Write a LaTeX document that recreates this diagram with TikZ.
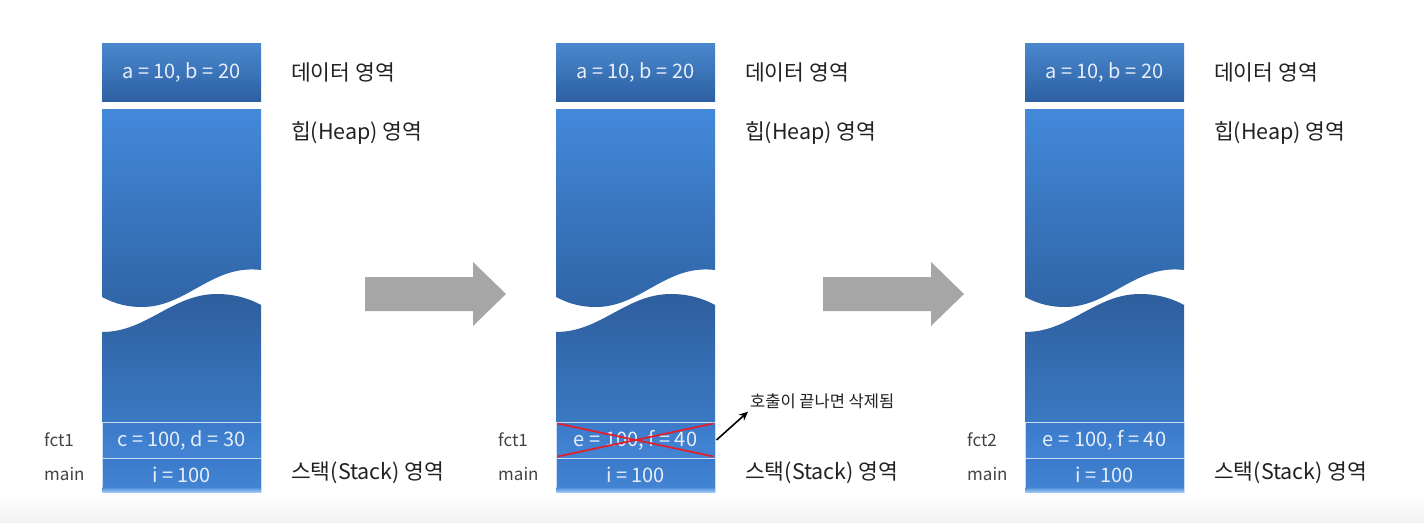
\documentclass[tikz,border=0pt]{standalone}
\usepackage{fontspec}
\setmainfont{Noto Sans CJK KR}
\usetikzlibrary{arrows.meta,calc}
\definecolor{dataTop}{HTML}{4A88CE}
\definecolor{dataBot}{HTML}{2C60A2}
\definecolor{heapTop}{HTML}{4389DA}
\definecolor{heapBot}{HTML}{3064A6}
\definecolor{lowTop}{HTML}{2E5E9E}
\definecolor{lowBot}{HTML}{3B79C3}
\definecolor{rowTop}{HTML}{3B7ACA}
\definecolor{rowBot}{HTML}{4385D4}
\definecolor{rowLine}{HTML}{C9DCF2}
\definecolor{rowShine}{HTML}{9CC8F5}
\definecolor{boxText}{HTML}{E8EEF8}
\definecolor{lblText}{HTML}{222222}
\definecolor{arrowGray}{HTML}{A6A6A6}
\definecolor{crossRed}{HTML}{E0202C}
\tikzset{
  databox/.style={rectangle, minimum width=159pt, minimum height=58pt, inner sep=0pt,
    top color=dataTop, bottom color=dataBot, text=boxText, font=\fontsize{20}{22}\selectfont},
  heapup/.style={top color=heapTop, bottom color=heapBot},
  heaplow/.style={top color=lowTop, bottom color=lowBot},
  rowbox/.style={rectangle, minimum width=159pt, minimum height=36pt, inner sep=0pt,
    top color=rowTop, bottom color=rowBot, draw=rowLine, line width=1pt, text=boxText,
    font=\fontsize{20}{22}\selectfont},
  sidelabel/.style={anchor=west, inner sep=0pt, text=lblText, font=\fontsize{21.5}{23}\selectfont},
  framelbl/.style={anchor=west, inner sep=0pt, text=lblText!85, font=\fontsize{17}{19}\selectfont},
  bigarrow/.style={fill=arrowGray, draw=none},
  crossline/.style={draw=crossRed, line width=1.8pt},
  notearrow/.style={-{Stealth[length=9pt,width=8pt]}, line width=1.6pt, black},
  notelbl/.style={anchor=west, inner sep=0pt, text=lblText, font=\fontsize{16.5}{18}\selectfont}
}
\newcommand\memcolumn[4]{%
\begin{scope}[shift={(#1,0)}]
  \node[databox] (#2data) at (79.5,72) {a = 10, b = 20};
  \path[heapup] (0,109) -- (159,109) -- (159,270)
     .. controls (110,264) and (85,307) .. (40,307)
     .. controls (20,307) and (8,301) .. (0,297) -- cycle;
  \path[heaplow] (0,332) .. controls (45,332) and (70,294) .. (115,294)
     .. controls (135,294) and (150,300) .. (159,305) -- (159,422) -- (0,422) -- cycle;
  \node[rowbox] (#2fct) at (79.5,440) {#4};
  \node[rowbox, minimum height=34pt] (#2main) at (79.5,475) {i = 100};
  \path[top color=rowBot, bottom color=rowShine] (0.5,487) rectangle (158.5,492);
  \node[sidelabel] (#2datalbl) at (189,72) {데이터 영역};
  \node[sidelabel] (#2heaplbl) at (189,133) {힙(Heap) 영역};
  \node[sidelabel] (#2stacklbl) at (189,473) {스택(Stack) 영역};
  \node[framelbl] (#2fctlbl) at (-58,440) {#3};
  \node[framelbl] (#2mainlbl) at (-58,474) {main};
\end{scope}}
\begin{document}
\begin{tikzpicture}[x=1pt, y=-1pt]
  \useasboundingbox (0,0) rectangle (1424,522);
  \fill[white] (0,0) rectangle (1424,522);
  \path[top color=white, bottom color=black!5] (0,492) rectangle (1424,522);
  \memcolumn{102}{A}{fct1}{c = 100, d = 30}
  \memcolumn{556}{B}{fct1}{e = 100, f = 40}
  \memcolumn{1025}{C}{fct2}{e = 100, f = 40}
  % grey transition arrows
  \path[bigarrow] (365,277) -- (473,277) -- (473,262) -- (506,294) -- (473,326) -- (473,311) -- (365,311) -- cycle;
  \path[bigarrow] (823,277) -- (931,277) -- (931,262) -- (964,294) -- (931,326) -- (931,311) -- (823,311) -- cycle;
  % red cross over the removed frame
  \draw[crossline] ($(Bfct.north west)+(2,2)$) -- ($(Bfct.south east)+(-2,-2)$);
  \draw[crossline] ($(Bfct.south west)+(2,-2)$) -- ($(Bfct.north east)+(-2,2)$);
  % note
  \node[notelbl] (note) at (750,401) {호출이 끝나면 삭제됨};
  \draw[notearrow] ($(Bfct.east)+(1,0)$) -- ($(note.south west)+(-2,3)$);
\end{tikzpicture}
\end{document}
